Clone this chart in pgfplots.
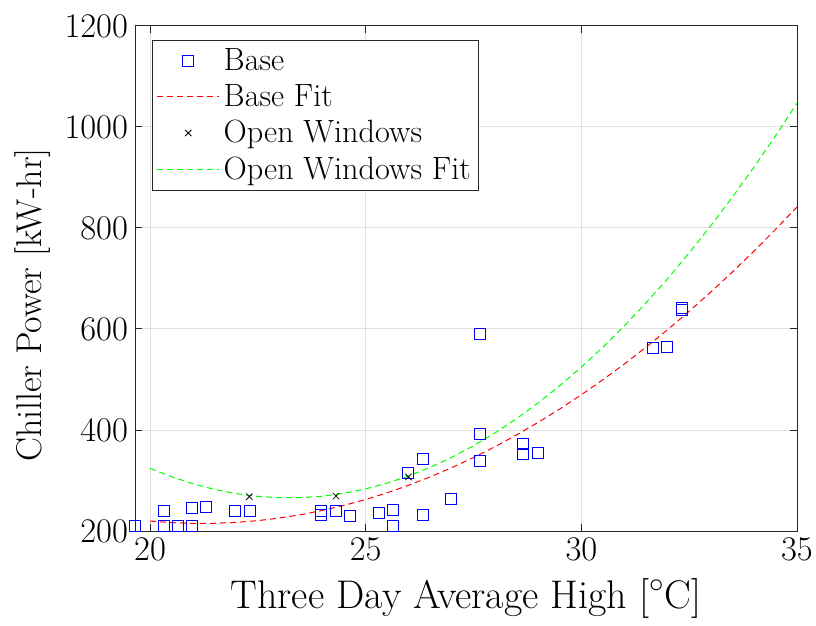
\documentclass[border=0pt]{standalone}
\usepackage{pgfplots}
\pgfplotsset{compat=1.18}

\definecolor{axgray}{gray}{0.15}
\definecolor{gridgray}{gray}{0.88}
\definecolor{fitgreen}{rgb}{0,1,0}

\begin{document}
\begin{tikzpicture}
	\begin{axis}[
		scale only axis,
		width=331pt, height=252.5pt,
		xmin=19.65, xmax=35,
		ymin=200, ymax=1200,
		xtick={20,25,30,35},
		ytick={200,400,600,800,1000,1200},
		/pgf/number format/1000 sep={},
		xlabel={Three Day Average High [$^\circ$C]},
		ylabel={Chiller Power [kW-hr]},
		xlabel style={font=\fontsize{20}{22}\selectfont},
		ylabel style={font=\fontsize{17.9}{20}\selectfont, at={(ticklabel cs:0.4475)}},
		xlabel shift=2pt,
		ylabel shift=0pt,
		tick label style={font=\fontsize{16.3}{18}\selectfont},
		grid=major,
		major grid style={color=gridgray, line width=0.5pt},
		axis line style={axgray, line width=0.5pt},
		tick style={axgray, line width=0.5pt},
		tick align=inside,
		major tick length=3.5pt,
		legend cell align=left,
		legend style={at={(0.026,0.972)}, anchor=north west,
			draw=axgray, line width=0.5pt, inner sep=2pt,
			font=\fontsize{16.1}{19}\selectfont, row sep=1.4pt},
		legend image code/.code={\draw[mark repeat=2, mark phase=2, #1]
			plot coordinates {(0pt,0pt) (15.5pt,0pt) (31pt,0pt)};},
		]

		% Base
		\addplot[only marks, mark=square, mark size=2.75pt, color=blue, line width=0.5pt]
		coordinates {
			(19.65,210)(20.32,240)(20.32,210)(20.65,210)(20.98,210)
			(20.98,245)(21.30,247)(21.97,240)(22.32,240)(23.96,240)
			(23.96,232)(24.31,240)(24.64,230)(25.31,235)(25.64,242)
			(25.64,209)(25.99,314)(26.32,343)(26.32,232)(26.98,263)
			(27.66,590)(27.66,393)(27.66,339)(28.64,372)(28.64,352)
			(28.99,354)(31.65,562)(31.99,564)(32.33,642)(32.33,637)
		};
		\addlegendentry{Base}

		% Base fit
		\addplot[color=red, line width=0.5pt, dash pattern=on 3pt off 2pt]
		coordinates {
			(20,219.7)(20.5,216.6)(21,215.1)(21.5,215.3)(22,217.1)
			(22.5,220.6)(23,225.7)(23.5,232.4)(24,240.8)(24.5,250.8)
			(25,262.5)(25.5,275.8)(26,290.8)(26.5,307.4)(27,325.7)
			(27.5,345.6)(28,367.1)(28.5,390.3)(29,415.2)(29.5,441.6)
			(30,469.8)(30.5,499.6)(31,531.0)(31.5,564.0)(32,598.7)
			(32.5,635.1)(33,673.1)(33.5,712.7)(34,754.0)(34.5,797.0)
			(35,841.6)
		};
		\addlegendentry{Base Fit}

		% Open windows
		\addplot[only marks, mark=x, mark size=2.25pt, color=black, line width=0.4pt]
		coordinates {
			(22.30,268)(24.31,269)(25.99,307)
		};
		\addlegendentry{Open Windows}

		% Open windows fit
		\addplot[color=fitgreen, line width=0.5pt, dash pattern=on 3pt off 2pt]
		coordinates {
			(20,324.0)(20.5,307.3)(21,293.4)(21.5,282.3)(22,274.0)
			(22.5,268.5)(23,265.9)(23.5,266.0)(24,269.0)(24.5,274.8)
			(25,283.4)(25.5,294.9)(26,309.1)(26.5,326.2)(27,346.1)
			(27.5,368.8)(28,394.3)(28.5,422.6)(29,453.8)(29.5,487.8)
			(30,524.5)(30.5,564.1)(31,606.6)(31.5,651.8)(32,699.8)
			(32.5,750.7)(33,804.4)(33.5,860.9)(34,920.2)(34.5,982.3)
			(35,1047.3)
		};
		\addlegendentry{Open Windows Fit}

	\end{axis}
	\pgfresetboundingbox
	\path (current axis.south west) ++(-67.5pt,-47pt) coordinate (bbl);
	\path (current axis.north east) ++(9.5pt,13pt) coordinate (bur);
	\path[use as bounding box] (bbl) rectangle (bur);
\end{tikzpicture}
\end{document}
